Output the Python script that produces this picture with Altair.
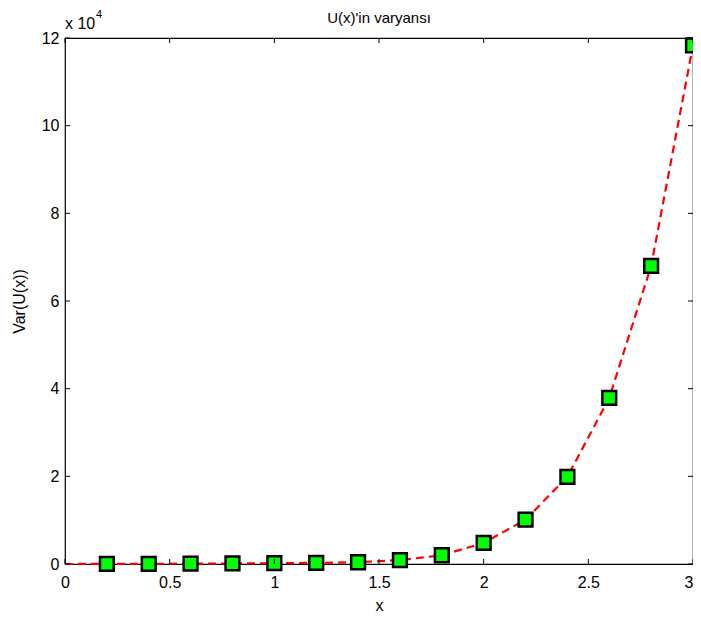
import altair as alt
import pandas as pd

xs_line = [0.0, 0.2, 0.4, 0.6, 0.8, 1.0, 1.2, 1.4, 1.6, 1.8, 2.0, 2.2, 2.4, 2.6, 2.8, 3.0]
var_line = [0, 20, 40, 80, 120, 180, 260, 400, 900, 2000, 4800, 10100, 19900, 37900, 68000, 118300]

x_ticks = [0, 0.5, 1, 1.5, 2, 2.5, 3]
y_ticks = [0, 20000, 40000, 60000, 80000, 100000, 120000]

W, H = 628, 526

df = pd.DataFrame({"x": xs_line, "v": var_line})
pts = df[df["x"] > 0]

xscale = alt.Scale(domain=[0, 3], nice=False, zero=False)
yscale = alt.Scale(domain=[0, 120000], nice=False)

FONT = "Liberation Sans"

xaxis = alt.Axis(values=x_ticks, domain=False, ticks=False, grid=False,
                 labelFontSize=16, labelPadding=10, labelColor="black",
                 labelFont=FONT, title="x", titleFontSize=16,
                 titleFont=FONT, titleFontWeight="normal",
                 titlePadding=7, titleColor="black", labelFlush=False,
                 labelAlign={"expr": "datum.value >= 3 ? 'right' : 'center'"},
                 labelExpr="format(datum.value, '')")
yaxis = alt.Axis(values=y_ticks, domain=False, ticks=False, grid=False,
                 labelFontSize=16, labelPadding=6, labelColor="black",
                 labelFont=FONT, title="Var(U(x))", titleFontSize=16,
                 titleFont=FONT, titleFontWeight="normal",
                 titlePadding=14, titleColor="black", labelFlush=False,
                 labelExpr="format(datum.value/10000, '')")

line = alt.Chart(df).mark_line(color="#ff0000", strokeWidth=2.2, strokeDash=[8, 5], clip=False).encode(
    x=alt.X("x:Q", scale=xscale, axis=xaxis),
    y=alt.Y("v:Q", scale=yscale, axis=yaxis),
)

points = alt.Chart(pts).mark_point(shape="square", filled=True, fill="#00ff00", stroke="black",
                                   strokeWidth=2.5, size=190, opacity=1).encode(
    x=alt.X("x:Q", scale=xscale),
    y=alt.Y("v:Q", scale=yscale),
)

xt = pd.DataFrame({"t": x_ticks})
yt = pd.DataFrame({"t": y_ticks})
tick_style = dict(color="black", strokeWidth=1)
bx = alt.Chart(xt).mark_rule(**tick_style).encode(x=alt.X("t:Q", scale=xscale), y=alt.value(H), y2=alt.value(H - 5))
tx = alt.Chart(xt).mark_rule(**tick_style).encode(x=alt.X("t:Q", scale=xscale), y=alt.value(0), y2=alt.value(5))
ly = alt.Chart(yt).mark_rule(**tick_style).encode(y=alt.Y("t:Q", scale=yscale), x=alt.value(0), x2=alt.value(5))
ry = alt.Chart(yt).mark_rule(**tick_style).encode(y=alt.Y("t:Q", scale=yscale), x=alt.value(W), x2=alt.value(W - 5))

title = alt.Chart(pd.DataFrame({"s": ["U(x)'in varyansı"]})).mark_text(
    font=FONT, fontSize=15, color="black", baseline="alphabetic").encode(
    text="s:N", x=alt.value(W / 2), y=alt.value(-15))
mult = alt.Chart(pd.DataFrame({"s": ["x 10"]})).mark_text(
    font=FONT, fontSize=16, color="black", align="left", baseline="alphabetic").encode(
    text="s:N", x=alt.value(0), y=alt.value(-9))
sup = alt.Chart(pd.DataFrame({"s": ["4"]})).mark_text(
    font=FONT, fontSize=11, color="black", align="left", baseline="alphabetic").encode(
    text="s:N", x=alt.value(31), y=alt.value(-20))

chart = alt.layer(line, points, bx, tx, ly, ry, title, mult, sup).properties(
    width=W, height=H,
    background="white",
    autosize=alt.AutoSizeParams(type="none"),
    padding={"left": 57, "top": 30, "right": 0, "bottom": 49},
).configure_view(stroke="black", strokeWidth=1.2)

chart.save("out.html", embed_options={"renderer": "svg", "actions": False})
